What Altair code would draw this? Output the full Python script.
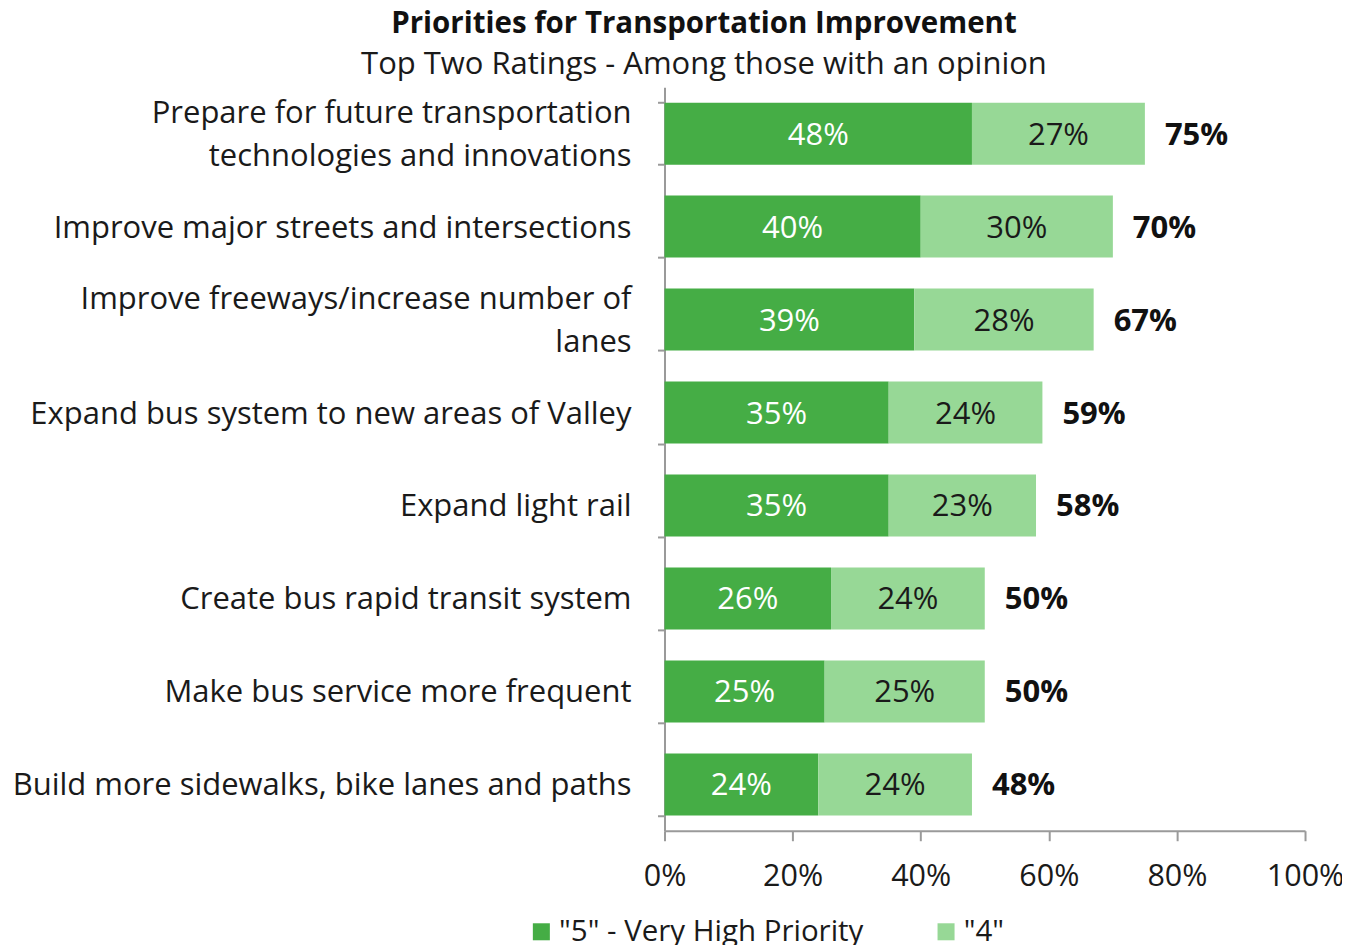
import altair as alt
import pandas as pd

categories = [
    "Prepare for future transportation|technologies and innovations",
    "Improve major streets and intersections",
    "Improve freeways/increase number of|lanes",
    "Expand bus system to new areas of Valley",
    "Expand light rail ",
    "Create bus rapid transit system",
    "Make bus service more frequent",
    "Build more sidewalks, bike lanes and paths",
]
very_high = [48, 40, 39, 35, 35, 26, 25, 24]
rating4 = [27, 30, 28, 24, 23, 24, 25, 24]
totals = [75, 70, 67, 59, 58, 50, 50, 48]
series = ['"5" - Very High Priority', '"4"']
colors = ["#45AD45", "#97D896"]

rows = []
for c, a, b in zip(categories, very_high, rating4):
    rows.append({"cat": c, "series": series[0], "order": 0, "value": a / 100})
    rows.append({"cat": c, "series": series[1], "order": 1, "value": b / 100})
df = pd.DataFrame(rows)
tot = pd.DataFrame({"cat": categories, "total": [t / 100 for t in totals]})
labels_df = pd.DataFrame({"cat": categories})

FONT = "Open Sans"
FS = 31
NUM = 31
TXT = "#1a1a1a"
AX = "#9a9a9a"

yenc = alt.Y(
    "cat:N",
    sort=categories,
    scale=alt.Scale(paddingInner=0.333, paddingOuter=0.165),
    axis=alt.Axis(
        title=None,
        labels=False,
        tickBand="extent",
        tickSize=7,
        tickColor=AX,
        domainColor=AX,
        domainWidth=2,
        tickWidth=2,
    ),
)

bars = alt.Chart(df).mark_bar().encode(
    y=yenc,
    x=alt.X(
        "value:Q",
        stack="zero",
        scale=alt.Scale(domain=[0, 1]),
        axis=alt.Axis(
            title=None,
            format=".0%",
            values=[0, 0.2, 0.4, 0.6, 0.8, 1.0],
            labelFontSize=30.5,
            labelFont=FONT,
            labelColor=TXT,
            labelFlush=False,
            labelPadding=21,
            tickSize=10,
            tickColor=AX,
            domainColor=AX,
            domainWidth=2,
            tickWidth=2,
            grid=False,
        ),
    ),
    color=alt.Color(
        "series:N",
        sort=series,
        scale=alt.Scale(domain=series, range=colors),
        legend=alt.Legend(
            title=None,
            orient="none",
            direction="horizontal",
            legendX=-138,
            legendY=830,
            padding=0,
            symbolType="square",
            symbolSize=290,
            symbolStrokeWidth=0,
            labelFontSize=29.5,
            labelFont=FONT,
            labelColor=TXT,
            labelLimit=600,
            columnPadding=67,
            labelOffset=3,
        ),
    ),
    order=alt.Order("order:Q"),
)

mid = alt.Chart(df).transform_stack(
    stack="value", groupby=["cat"], as_=["v0", "v1"], sort=[alt.SortField("order")]
).transform_calculate(mid="(datum.v0 + datum.v1) / 2")

seg_text = mid.mark_text(fontSize=NUM, font=FONT, dy=2).encode(
    y=alt.Y("cat:N", sort=categories),
    x=alt.X("mid:Q"),
    text=alt.Text("value:Q", format=".0%"),
    color=alt.Color("series:N", scale=alt.Scale(domain=series, range=["#ffffff", TXT]), legend=None),
)

tot_text = alt.Chart(tot).mark_text(
    fontSize=NUM, font=FONT, fontWeight="bold", align="left", dx=20, dy=2, color="#111111"
).encode(
    y=alt.Y("cat:N", sort=categories),
    x=alt.X("total:Q"),
    text=alt.Text("total:Q", format=".0%"),
)

lab_base = alt.Chart(labels_df).transform_calculate(
    lines="split(datum.cat, '|')", n="length(split(datum.cat, '|'))"
)
lab1 = lab_base.transform_filter("datum.n == 1").mark_text(
    fontSize=FS, font=FONT, color=TXT, align="right", baseline="middle", lineHeight=43, dy=2
).encode(
    y=alt.Y("cat:N", sort=categories),
    x=alt.value(-33),
    text=alt.Text("cat:N"),
)
lab2 = lab_base.transform_filter("datum.n == 2").mark_text(
    fontSize=FS, font=FONT, color=TXT, align="right", baseline="middle", lineHeight=43, dy=-20
).encode(
    y=alt.Y("cat:N", sort=categories),
    x=alt.value(-33),
    text=alt.Text("lines:N"),
)

chart = alt.layer(bars, seg_text, tot_text, lab1, lab2).resolve_scale(color="independent").properties(
    width=641,
    height=744,
    autosize=alt.AutoSizeParams(type="none"),
    padding={"left": 657, "top": 79, "right": 37, "bottom": 114},
    title=alt.TitleParams(
        text="Priorities for Transportation Improvement",
        subtitle="Top Two Ratings - Among those with an opinion",
        anchor="middle",
        dx=-281,
        fontSize=29.5,
        font=FONT,
        fontWeight="bold",
        color="#111111",
        subtitleFontSize=31,
        subtitleFont=FONT,
        subtitleColor=TXT,
        subtitlePadding=11,
        offset=6,
    ),
).configure_view(stroke=None)

chart.save("out.html", embed_options={"renderer": "svg", "actions": False})
